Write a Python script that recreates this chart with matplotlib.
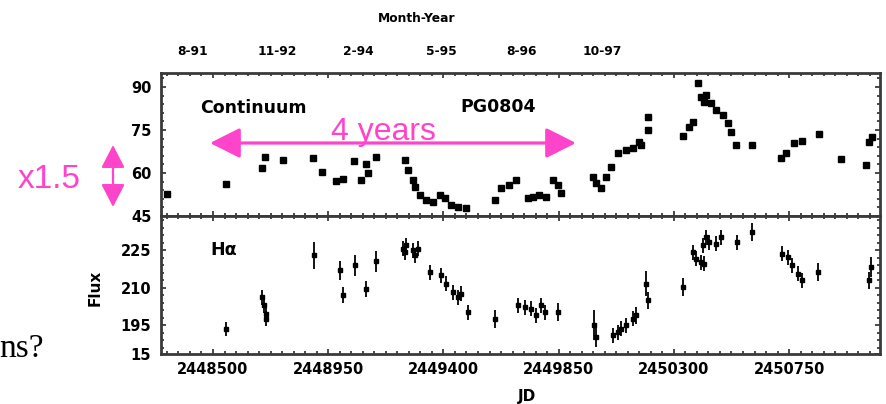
import matplotlib
matplotlib.use('Agg')
import matplotlib.pyplot as plt
from matplotlib.ticker import MultipleLocator, FixedLocator, NullFormatter
from matplotlib.patches import FancyArrowPatch

# ---------------- data ----------------
cont_jd = [2448319, 2448550, 2448691, 2448705, 2448772, 2448891, 2448926, 2448982,
           2449006, 2449051, 2449077, 2449099, 2449106, 2449138, 2449249, 2449262,
           2449281, 2449288, 2449307, 2449333, 2449359, 2449385, 2449405, 2449431,
           2449457, 2449489, 2449600, 2449626, 2449658, 2449684, 2449730, 2449749,
           2449775, 2449801, 2449827, 2449847, 2449860, 2449983, 2449996, 2450016,
           2450035, 2450055, 2450081, 2450113, 2450139, 2450165, 2450172, 2450198,
           2450198, 2450334, 2450360, 2450373, 2450393, 2450406, 2450419, 2450425,
           2450445, 2450464, 2450490, 2450510, 2450523, 2450542, 2450607, 2450718,
           2450737, 2450770, 2450802, 2450867, 2450952, 2451049, 2451062, 2451075]
cont_flux = [52.7, 56.2, 61.8, 65.5, 64.5, 65.3, 60.2, 57.2,
             57.8, 64.3, 57.6, 63.0, 59.9, 65.5, 64.5, 61.0,
             57.6, 55.2, 52.3, 50.6, 50.0, 52.3, 51.2, 48.8,
             48.2, 47.7, 50.6, 54.7, 55.8, 57.6, 51.2, 51.7,
             52.3, 51.7, 57.6, 55.8, 52.9, 58.7, 56.4, 54.7,
             58.7, 62.2, 66.9, 68.0, 68.6, 70.9, 69.8, 79.6,
             75.0, 73.0, 76.1, 77.9, 91.3, 86.6, 84.9, 87.2,
             84.3, 82.0, 80.2, 77.3, 74.4, 69.8, 69.8, 65.1,
             66.9, 70.6, 71.2, 73.5, 64.8, 62.8, 70.9, 72.7]

ha_jd = [2448550, 2448690, 2448699, 2448707, 2448709, 2448894, 2448995, 2449008,
         2449054, 2449099, 2449136, 2449242, 2449249, 2449255, 2449281, 2449288,
         2449301, 2449346, 2449392, 2449411, 2449437, 2449457, 2449470, 2449496,
         2449602, 2449691, 2449717, 2449743, 2449762, 2449782, 2449795, 2449847,
         2449990, 2449996, 2450061, 2450081, 2450094, 2450113, 2450139, 2450152,
         2450191, 2450198, 2450334, 2450373, 2450386, 2450406, 2450412, 2450419,
         2450425, 2450438, 2450464, 2450484, 2450545, 2450607, 2450724, 2450744,
         2450763, 2450783, 2450800, 2450864, 2451062, 2451069]
ha_flux = [193.3, 206.2, 202.9, 199.5, 197.5, 222.9, 216.9, 207.1,
           218.9, 209.5, 220.5, 225.5, 224.2, 226.9, 224.9, 222.9,
           225.5, 216.2, 214.9, 211.5, 208.2, 206.2, 207.5, 200.2,
           197.5, 202.9, 202.2, 201.5, 198.9, 202.9, 200.2, 200.2,
           194.9, 190.2, 190.9, 192.2, 193.5, 194.9, 197.5, 198.9,
           211.5, 204.9, 210.2, 224.2, 221.5, 220.2, 226.9, 219.5,
           230.2, 228.2, 227.5, 230.2, 228.2, 232.2, 223.5, 222.2,
           218.9, 215.5, 212.9, 216.2, 212.9, 218.2]
ha_err = [2.8, 3.0, 3.0, 3.0, 3.0, 5.3, 3.7, 3.3,
          4.3, 3.3, 4.3, 3.0, 3.0, 3.0, 3.0, 3.0,
          3.0, 3.0, 3.0, 3.0, 3.0, 3.0, 3.0, 3.0,
          3.5, 3.0, 3.0, 3.0, 3.0, 3.0, 3.0, 3.5,
          6.0, 4.0, 3.0, 3.0, 3.0, 3.0, 3.0, 3.5,
          5.0, 3.5, 3.5, 3.0, 3.0, 3.0, 3.0, 3.0,
          3.0, 3.0, 3.0, 3.0, 3.0, 3.5, 3.0, 3.0,
          3.0, 3.0, 3.0, 3.5, 3.5, 4.0]

jd_ticks = [2448500, 2448950, 2449400, 2449850, 2450300, 2450750]
jd_labels = ['2448500', '2448950', '2449400', '2449850', '2450300', '2450750']
month_pos = [2448422, 2448750, 2449066, 2449393, 2449705, 2450021]
month_labels = ['8-91', '11-92', '2-94', '5-95', '8-96', '10-97']
cont_yticks = [45, 60, 75, 90]
ha_yticks = [183.4, 195, 210, 225]
ha_ylabels = ['15', '195', '210', '225']

# ---------------- figure ----------------
W, H = 887, 404
fig = plt.figure(figsize=(W / 100, H / 100), dpi=100)
plt.rcParams['font.family'] = ['DejaVu Sans']


def fx(px):
    return px / W


def fy(py):
    return 1 - py / H


L, R, T, M, B = 161, 880, 73, 216, 354
ax1 = fig.add_axes([fx(L), fy(M), fx(R) - fx(L), fy(T) - fy(M)])
ax2 = fig.add_axes([fx(L), fy(B), fx(R) - fx(L), fy(M) - fy(B)])

FRAME = '#3a3a3a'
for ax in (ax1, ax2):
    ax.set_xlim(2448297, 2451105)
    ax.xaxis.set_major_locator(FixedLocator(jd_ticks))
    ax.xaxis.set_minor_locator(MultipleLocator(45, offset=5))
    ax.yaxis.set_minor_locator(MultipleLocator(3))
    ax.tick_params(which='both', direction='in', top=True, right=True,
                   color=FRAME, width=1.3)
    ax.tick_params(which='major', length=3.8, labelsize=10.5, pad=7)
    ax.tick_params(which='minor', length=2.2)
    for s in ax.spines.values():
        s.set_color(FRAME)
        s.set_linewidth(2.0)
    for lab in ax.get_yticklabels() + ax.get_xticklabels():
        lab.set_fontweight('bold')

# top panel
ax1.plot(cont_jd, cont_flux, 's', ms=3.8, color='black', mec='black')
ax1.set_ylim(45, 94.9)
ax1.yaxis.set_major_locator(FixedLocator(cont_yticks))
ax1.set_yticklabels([str(v) for v in cont_yticks], fontweight='bold')
ax1.xaxis.set_major_formatter(NullFormatter())

# bottom panel
ax2.errorbar(ha_jd, ha_flux, yerr=ha_err, fmt='s', ms=3.2, color='black',
             ecolor='black', elinewidth=1.3, capsize=0)
ax2.set_ylim(183.4, 238.6)
ax2.yaxis.set_major_locator(FixedLocator(ha_yticks))
ax2.set_yticklabels(ha_ylabels, fontweight='bold')
ax2.set_xticklabels(jd_labels, fontweight='bold')
ax2.tick_params(axis='x', which='major', pad=6)

# top month axis
sec = ax1.secondary_xaxis('top')
sec.xaxis.set_major_locator(FixedLocator(month_pos))
sec.set_xticklabels(month_labels, fontweight='bold', fontsize=8.8)
sec.tick_params(length=0, pad=10.5)
sec.xaxis.set_minor_locator(FixedLocator([]))
sec.spines['top'].set_visible(False)

# labels
fig.text(fx(417), fy(19), 'Month-Year', ha='center', va='center',
         fontsize=8.8, fontweight='bold')
fig.text(fx(527), fy(397), 'JD', ha='center', va='center',
         fontsize=11, fontweight='bold')
fig.text(fx(95), fy(288), 'Flux', ha='center', va='center', rotation=90,
         fontsize=11, fontweight='bold')
fig.text(fx(200), fy(108), 'Continuum', ha='left', va='center',
         fontsize=12.5, fontweight='bold')
fig.text(fx(460), fy(107), 'PG0804', ha='left', va='center',
         fontsize=12.5, fontweight='bold')
fig.text(fx(210), fy(250), 'H\u03b1', ha='left', va='center',
         fontsize=12.5, fontweight='bold')

# stray slide text
fig.text(fx(44), fy(357), 'ns?', ha='right', va='baseline',
         family=['Liberation Serif'], fontsize=24, color='black')

# magenta annotations
MAG = '#ff44cc'
harrow = FancyArrowPatch((fx(210), fy(143)), (fx(576), fy(143)),
                         transform=fig.transFigure,
                         arrowstyle='<|-|>,head_length=18.5,head_width=9.3',
                         mutation_scale=1, lw=2.3, color=MAG,
                         shrinkA=0, shrinkB=0)
fig.patches.append(harrow)
varrow = FancyArrowPatch((fx(113), fy(145)), (fx(113), fy(207)),
                         transform=fig.transFigure,
                         arrowstyle='<|-|>,head_length=14,head_width=7.2',
                         mutation_scale=1, lw=1.6, color=MAG,
                         shrinkA=0, shrinkB=0)
fig.patches.append(varrow)
fig.text(fx(383), fy(140), '4 years', ha='center', va='baseline',
         family=['Liberation Sans'], fontsize=23, color=MAG)
fig.text(fx(18), fy(188), 'x1.5', ha='left', va='baseline',
         family=['Liberation Sans'], fontsize=24, color=MAG)

fig.savefig('out.png', dpi=100)
